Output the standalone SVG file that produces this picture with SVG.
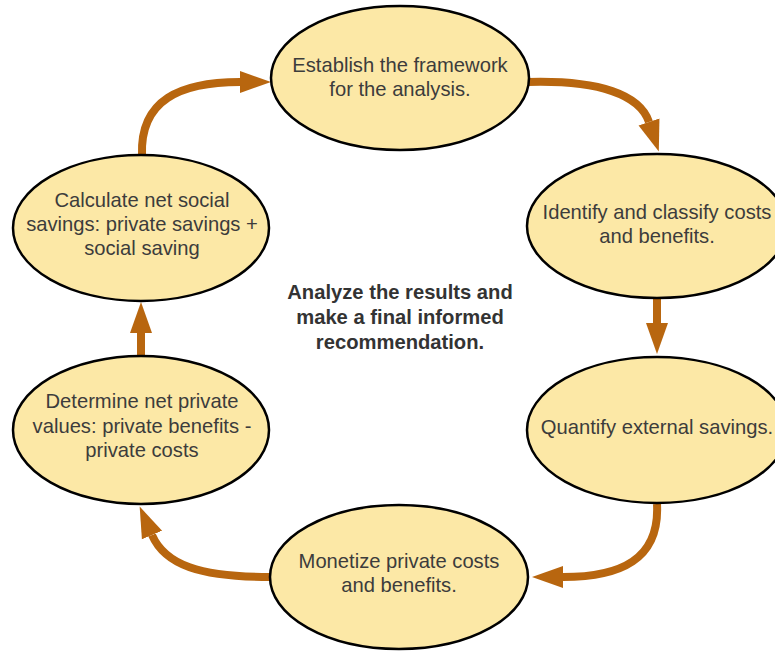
<svg xmlns="http://www.w3.org/2000/svg" width="775" height="652" viewBox="0 0 775 652">
<style>
.node ellipse{fill:#fce8a6;stroke:#000;stroke-width:2.5}
.node text{font-family:"Liberation Sans",Arial,sans-serif;font-size:20.2px;fill:#3c3c3c;text-anchor:middle}
.center text{font-family:"Liberation Sans",Arial,sans-serif;font-size:20.2px;font-weight:bold;fill:#333;text-anchor:middle}
.conn path{fill:none;stroke:#b8660f;stroke-width:8;marker-end:url(#ah)}
</style>
<defs>
<marker id="ah" markerUnits="userSpaceOnUse" markerWidth="32" markerHeight="24" refX="0" refY="11" orient="auto" viewBox="0 0 32 22">
<path d="M0,0 L31,11 L0,22 z" fill="#b8660f"/>
</marker>
</defs>
<rect width="775" height="652" fill="#fff"/>
<g id="connectors" class="conn">
<path d="M528,82 C600,80 640,95 649,122"/>
<path d="M657,299 L657,323"/>
<path d="M657,504 C660,560 620,577 563,577"/>
<path d="M270,577 C200,577 165,565 152,535"/>
<path d="M141,356 L141,333"/>
<path d="M142,155 C140,100 180,82 240,82"/>
</g>
<g id="n1" class="node">
<ellipse cx="400" cy="78" rx="129" ry="72"/>
<text x="400" y="72">Establish the framework</text>
<text x="400" y="96">for the analysis.</text>
</g>
<g id="n2" class="node">
<ellipse cx="657" cy="226" rx="130" ry="72"/>
<text x="657" y="219">Identify and classify costs</text>
<text x="657" y="243">and benefits.</text>
</g>
<g id="n3" class="node">
<ellipse cx="657" cy="430" rx="130" ry="73"/>
<text x="657" y="434">Quantify external savings.</text>
</g>
<g id="n4" class="node">
<ellipse cx="399" cy="577" rx="129" ry="72"/>
<text x="399" y="568">Monetize private costs</text>
<text x="399" y="592">and benefits.</text>
</g>
<g id="n5" class="node">
<ellipse cx="141" cy="430" rx="128" ry="74"/>
<text x="142" y="408">Determine net private</text>
<text x="142" y="433">values: private benefits -</text>
<text x="142" y="457">private costs</text>
</g>
<g id="n6" class="node">
<ellipse cx="141" cy="228" rx="128" ry="73"/>
<text x="142" y="207">Calculate net social</text>
<text x="142" y="231">savings: private savings +</text>
<text x="142" y="255">social saving</text>
</g>
<g id="center" class="center">
<text x="400" y="299">Analyze the results and</text>
<text x="400" y="324">make a final informed</text>
<text x="400" y="349">recommendation.</text>
</g>
</svg>
